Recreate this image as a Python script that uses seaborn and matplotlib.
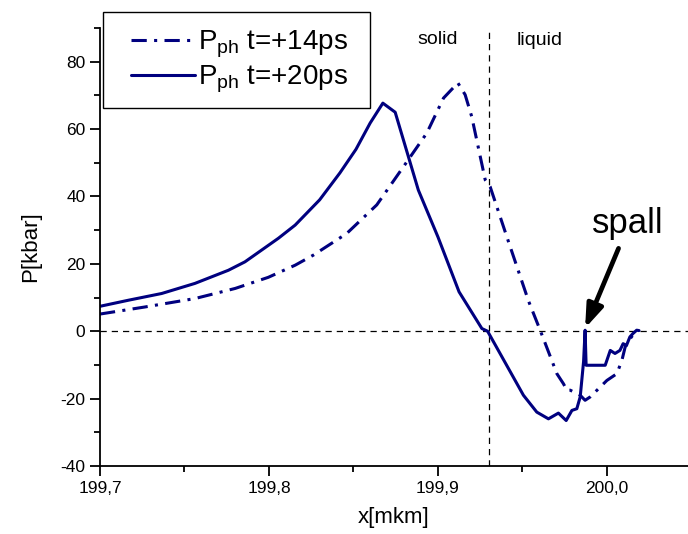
import matplotlib
matplotlib.use("Agg")
import matplotlib.pyplot as plt
from matplotlib.ticker import MultipleLocator, FuncFormatter
from matplotlib.patches import Rectangle
import seaborn as sns
import pandas as pd

# Pressure profiles P_ph(x) at two moments after the pulse
x_14ps = [199.700, 199.7266, 199.7562, 199.780, 199.7996, 199.8155, 199.8263,
          199.846, 199.8638, 199.8776, 199.8934, 199.9033, 199.9118, 199.9161,
          199.920, 199.928, 199.9309, 199.9408, 199.9536, 199.9605, 199.9704,
          199.9743, 199.9763, 199.9783, 199.9842, 199.9871, 199.9901, 200.000,
          200.0059, 200.0089, 200.0108, 200.0138, 200.0168, 200.0188]
p_14ps = [5.1, 7.2, 9.7, 12.7, 16.0, 19.6, 22.6,
          29.0, 37.5, 47.4, 58.8, 69.2, 73.7, 70.2,
          63.7, 44.9, 42.9, 28.0, 9.0, 0.3, -12.6,
          -15.6, -17.5, -17.5, -19.0, -20.5, -19.5, -14.6,
          -12.6, -8.6, -4.7, -2.2, -0.2, 0.3]

x_20ps = [199.700, 199.7168, 199.7365, 199.7562, 199.776, 199.7858, 199.7957,
          199.8056, 199.8155, 199.830, 199.842, 199.8515, 199.8599, 199.8674,
          199.8747, 199.8884, 199.900, 199.9125, 199.926, 199.9294, 199.9506,
          199.9585, 199.9654, 199.9713, 199.9759, 199.9793, 199.9822, 199.9842,
          199.9862, 199.9871, 199.9877, 199.999, 200.002, 200.0048, 200.0077,
          200.0096, 200.0116, 200.0136, 200.0154, 200.0176, 200.019]
p_20ps = [7.4, 9.2, 11.2, 14.2, 18.1, 20.6, 24.1,
          27.6, 31.5, 39.0, 47.0, 54.0, 61.8, 67.7,
          65.0, 41.9, 28.0, 11.7, 0.8, 0.0, -19.0,
          -24.0, -26.0, -24.3, -26.5, -23.5, -23.0, -19.5,
          -9.0, 0.3, -10.1, -10.1, -5.7, -6.6, -5.7,
          -3.7, -4.2, -1.7, -0.7, 0.3, 0.2]

labels = [r"P$_{\mathregular{ph}}$ t=+14ps", r"P$_{\mathregular{ph}}$ t=+20ps"]
x_melt = 199.93          # solid / liquid boundary
spall_x, spall_p = 199.9871, 0.3

sns.set_style("ticks")
plt.rcParams["font.family"] = ["Liberation Sans", "DejaVu Sans"]
plt.rcParams["mathtext.fontset"] = "custom"
plt.rcParams["mathtext.rm"] = "Liberation Sans"
plt.rcParams["mathtext.it"] = "Liberation Sans"
plt.rcParams["text.color"] = "black"
plt.rcParams["axes.labelcolor"] = "black"

navy = "#00007f"
W, H = 688, 534
fig = plt.figure(figsize=(W / 100, H / 100), dpi=100)
ax = fig.add_axes([100 / W, 1 - 466 / H, 588 / W, 438 / H])

df14 = pd.DataFrame({"x": x_14ps, "P": p_14ps})
df20 = pd.DataFrame({"x": x_20ps, "P": p_20ps})
sns.lineplot(data=df14, x="x", y="P", ax=ax, color=navy, lw=2.2,
             linestyle=(0, (5, 2.4, 1, 2.4)), sort=False, estimator=None,
             label=labels[0])
sns.lineplot(data=df20, x="x", y="P", ax=ax, color=navy, lw=2.2,
             sort=False, estimator=None, label=labels[1])

ax.axhline(0, color="black", lw=0.9, ls=(0, (5, 4)), zorder=1)
ax.axvline(x_melt, color="black", lw=0.9, ls=(0, (5, 4)), zorder=1)

ax.set_xlim(199.7, 200.048)
ax.set_ylim(-40, 90)
ax.xaxis.set_major_locator(MultipleLocator(0.1))
ax.xaxis.set_minor_locator(MultipleLocator(0.05))
ax.yaxis.set_major_locator(MultipleLocator(20))
ax.yaxis.set_minor_locator(MultipleLocator(10))
ax.xaxis.set_major_formatter(FuncFormatter(lambda v, p: f"{v:.1f}".replace(".", ",")))
ax.yaxis.set_major_formatter(FuncFormatter(lambda v, p: f"{v:.0f}" if v <= 80 else ""))
ax.tick_params(which="major", direction="out", length=7, width=1.3, labelsize=12.5,
               color="black", labelcolor="black")
ax.tick_params(which="minor", direction="out", length=4.5, width=1.3, color="black")
for s in ("top", "right"):
    ax.spines[s].set_visible(False)
for s in ("left", "bottom"):
    ax.spines[s].set_linewidth(1.3)
    ax.spines[s].set_color("black")

ax.set_xlabel("x[mkm]", fontsize=16, labelpad=8)
ax.set_ylabel("P[kbar]", fontsize=16, labelpad=14)

ax.text(199.8998, 86.5, "solid", fontsize=14, ha="center", va="center")
ax.text(199.9602, 86.2, "liquid", fontsize=14, ha="center", va="center")
ax.text(200.0126, 32.0, "spall", fontsize=25, ha="center", va="center")
ax.annotate("", xy=(spall_x, spall_p + 0.6), xytext=(200.0069, 24.6),
            arrowprops=dict(arrowstyle="-|>,head_length=0.7,head_width=0.25",
                            color="black", lw=3.4, mutation_scale=20,
                            shrinkA=0, shrinkB=0))

# legend frame drawn separately so its padding can be set freely
frame = Rectangle((103 / W, 1 - 108 / H), 267 / W, 96 / H,
                  transform=fig.transFigure, facecolor="white",
                  edgecolor="black", lw=1.0, clip_on=False, zorder=4)
ax.add_patch(frame)
leg = ax.legend(loc="upper left", bbox_to_anchor=(131 / W, 1 - 29 / H),
                bbox_transform=fig.transFigure, borderaxespad=0, borderpad=0,
                fontsize=20, frameon=False, handlelength=2.3,
                handletextpad=0.12, labelspacing=0.12)
leg.set_zorder(5)

fig.savefig("out.png", dpi=100)
